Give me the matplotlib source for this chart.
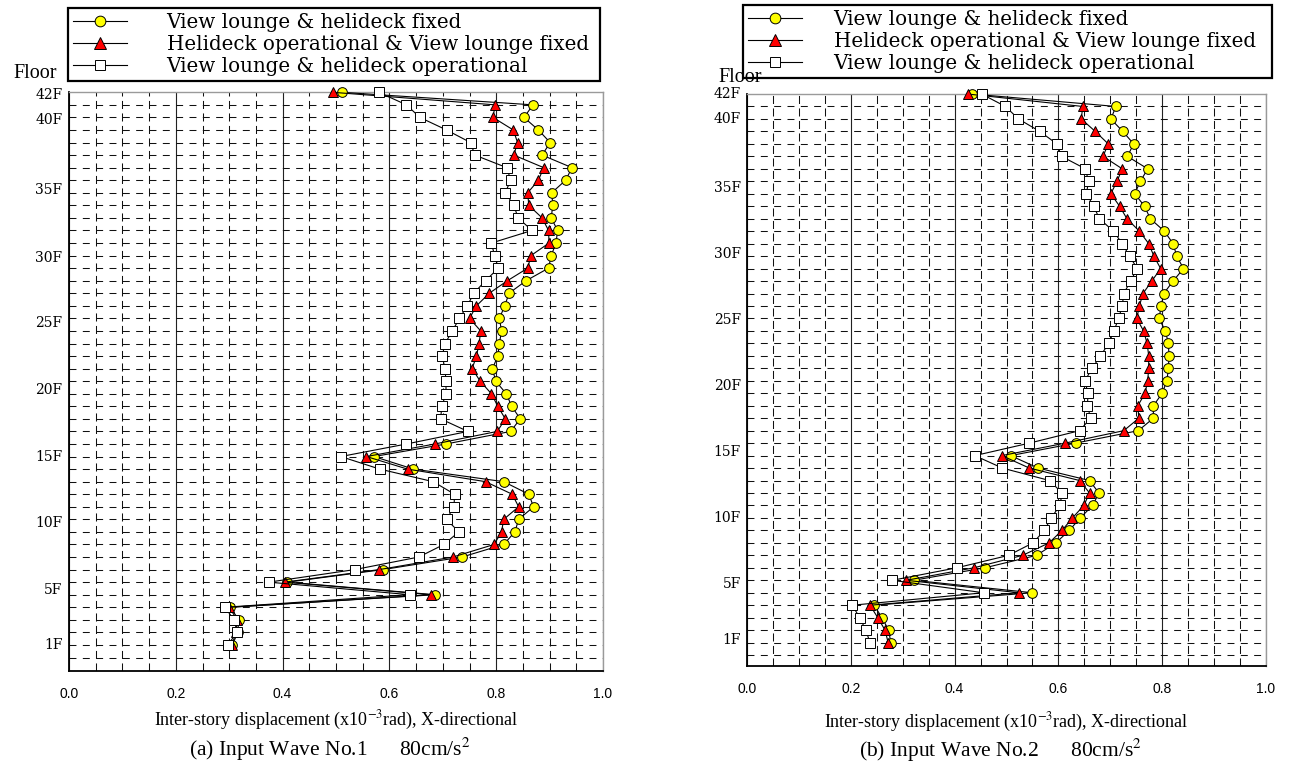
import matplotlib
matplotlib.use("Agg")
import matplotlib.pyplot as plt
import matplotlib.transforms as mtransforms
import numpy as np

plt.rcParams['lines.scale_dashes'] = False
plt.rcParams['mathtext.fontset'] = 'stix'

# ---------------- data ----------------
levels = list(range(45, 0, -1))  # measurement levels, top (42F) to bottom (1F)

series_labels = ["View lounge & helideck fixed",
                 "Helideck operational & View lounge fixed",
                 "View lounge & helideck operational"]

fixed_a = [0.511, 0.869, 0.852, 0.879, 0.901, 0.886, 0.942, 0.930, 0.904, 0.906,
           0.903, 0.915, 0.912, 0.903, 0.898, 0.856, 0.824, 0.816, 0.806, 0.810,
           0.806, 0.803, 0.793, 0.799, 0.819, 0.829, 0.845, 0.827, 0.706, 0.571,
           0.645, 0.814, 0.861, 0.870, 0.842, 0.835, 0.814, 0.736, 0.588, 0.409,
           0.685, 0.302, 0.318, 0.316, 0.306]
heli_a = [0.494, 0.798, 0.794, 0.832, 0.840, 0.833, 0.889, 0.879, 0.859, 0.861,
          0.886, 0.898, 0.899, 0.865, 0.859, 0.821, 0.787, 0.763, 0.750, 0.771,
          0.768, 0.763, 0.755, 0.770, 0.791, 0.803, 0.817, 0.802, 0.685, 0.557,
          0.634, 0.780, 0.830, 0.842, 0.814, 0.810, 0.796, 0.719, 0.581, 0.404,
          0.678, 0.300, 0.315, 0.313, 0.305]
oper_a = [0.580, 0.632, 0.657, 0.707, 0.752, 0.760, 0.820, 0.827, 0.817, 0.833,
          0.841, 0.867, 0.791, 0.797, 0.804, 0.780, 0.758, 0.746, 0.731, 0.718,
          0.704, 0.699, 0.704, 0.706, 0.706, 0.698, 0.696, 0.747, 0.632, 0.509,
          0.582, 0.682, 0.722, 0.721, 0.707, 0.730, 0.702, 0.655, 0.535, 0.374,
          0.638, 0.292, 0.309, 0.315, 0.297]

fixed_b = [0.433, 0.711, 0.701, 0.724, 0.745, 0.733, 0.772, 0.758, 0.747, 0.766,
           0.777, 0.804, 0.821, 0.828, 0.841, 0.821, 0.803, 0.798, 0.794, 0.806,
           0.812, 0.813, 0.812, 0.809, 0.800, 0.783, 0.783, 0.754, 0.633, 0.508,
           0.561, 0.660, 0.678, 0.666, 0.642, 0.621, 0.595, 0.558, 0.458, 0.321,
           0.550, 0.245, 0.260, 0.273, 0.277]
heli_b = [0.425, 0.647, 0.644, 0.671, 0.696, 0.686, 0.723, 0.713, 0.701, 0.718,
          0.732, 0.756, 0.774, 0.784, 0.797, 0.780, 0.763, 0.756, 0.751, 0.764,
          0.771, 0.774, 0.774, 0.772, 0.767, 0.753, 0.755, 0.726, 0.613, 0.491,
          0.544, 0.641, 0.660, 0.649, 0.627, 0.607, 0.582, 0.531, 0.437, 0.307,
          0.524, 0.237, 0.252, 0.266, 0.272]
oper_b = [0.452, 0.498, 0.523, 0.564, 0.597, 0.606, 0.652, 0.658, 0.654, 0.668,
          0.679, 0.706, 0.723, 0.737, 0.752, 0.739, 0.726, 0.723, 0.716, 0.707,
          0.697, 0.681, 0.665, 0.651, 0.657, 0.656, 0.662, 0.641, 0.544, 0.439,
          0.492, 0.583, 0.607, 0.603, 0.586, 0.573, 0.551, 0.504, 0.404, 0.280,
          0.456, 0.203, 0.217, 0.229, 0.237]

floor_labels = ["42F", "40F", "35F", "30F", "25F", "20F", "15F", "10F", "5F", "1F"]
floor_pos_a = [44.8, 42.8, 37.2, 31.8, 26.6, 21.3, 16.0, 10.7, 5.4, 1.0]
floor_pos_b = [45.0, 43.0, 37.5, 32.2, 26.9, 21.6, 16.3, 11.0, 5.7, 1.2]

x_ticks = [0.0, 0.2, 0.4, 0.6, 0.8, 1.0]
x_tick_labels = ["0.0", "0.2", "0.4", "0.6", "0.8", "1.0"]

xlabel_text = "Inter-story displacement (x10$^{-3}$rad), X-directional"
captions = ["(a) Input Wave No.1      80cm/s$^2$", "(b) Input Wave No.2      80cm/s$^2$"]

# ---------------- styles ----------------
styles = [dict(marker='o', mfc='#FFFF00', ms=7.0),
          dict(marker='^', mfc='#FF0000', ms=7.5),
          dict(marker='s', mfc='#FFFFFF', ms=7.0)]

W, H = 1294, 767
fig = plt.figure(figsize=(W / 100, H / 100), dpi=100)


def frac_rect(x0, y0, x1, y1):
    return [x0 / W, 1 - y1 / H, (x1 - x0) / W, (y1 - y0) / H]


def draw_panel(rect, series, floor_pos, ybot, legend_px, floor_xy, xlab_y, cap_y, caption, htp):
    ax = fig.add_axes(rect)
    ax.set_xlim(0, 1.0)
    ax.set_ylim(ybot, 45)
    ax.set_xticks(x_ticks)
    ax.set_xticklabels(x_tick_labels, fontfamily='Liberation Sans', fontsize=10)
    ax.set_xticks(np.arange(0.05, 1.0, 0.05), minor=True)
    ax.set_yticks([])
    ax.set_yticks(np.arange(0, 45, 1), minor=True)
    ax.tick_params(axis='both', which='both', length=0)
    ax.tick_params(axis='x', which='major', pad=12)
    ax.grid(which='major', axis='x', color='#222222', lw=0.8, ls='-')
    ax.grid(which='minor', axis='x', color='#111111', lw=0.75, ls=(0, (5.8, 3.2)))
    ax.grid(which='minor', axis='y', color='#111111', lw=0.75, ls=(0, (5.0, 4.6)))
    ax.set_axisbelow(True)
    for s in ('left', 'bottom'):
        ax.spines[s].set_color('black')
        ax.spines[s].set_linewidth(1.3)
    for s in ('top', 'right'):
        ax.spines[s].set_color('#9a9a9a')
        ax.spines[s].set_linewidth(1.0)

    handles = []
    for vals, st, lab in zip(series, styles, series_labels):
        h, = ax.plot(vals, levels, color='black', lw=0.8, marker=st['marker'],
                     ms=st['ms'], mfc=st['mfc'], mec='black', mew=0.7,
                     label=lab, clip_on=False, zorder=3)
        handles.append(h)

    trans = mtransforms.blended_transform_factory(ax.transAxes, ax.transData)
    for lab, p in zip(floor_labels, floor_pos):
        ax.text(-0.012, p, lab, transform=trans, ha='right', va='center',
                fontfamily='DejaVu Serif', fontsize=10, clip_on=False)

    lx0, ly0, lx1, ly1 = legend_px
    leg = ax.legend(handles=handles, loc='upper left',
                    bbox_to_anchor=(lx0 / W, 1 - ly1 / H, (lx1 - lx0) / W, (ly1 - ly0) / H),
                    bbox_transform=fig.transFigure, mode='expand',
                    prop={'family': 'DejaVu Serif', 'size': 14.3},
                    frameon=True, fancybox=False, framealpha=1, edgecolor='black',
                    borderpad=0.26, labelspacing=0.15, handlelength=2.7,
                    handletextpad=htp, borderaxespad=0, markerscale=1.1)
    leg.get_frame().set_linewidth(1.6)

    fig.text(floor_xy[0] / W, 1 - floor_xy[1] / H, "Floor", ha='center', va='center',
             fontfamily='Liberation Serif', fontsize=14.5)

    cx = (rect[0] + rect[2] / 2)
    fig.text(cx, 1 - xlab_y / H, xlabel_text, ha='center', va='center',
             fontfamily='Liberation Serif', fontsize=13)
    fig.text(cx - 0.005, 1 - cap_y / H, caption, ha='center', va='center',
             fontfamily='Liberation Serif', fontsize=15.5)
    return ax


draw_panel(frac_rect(69, 92.3, 603, 670.7), [fixed_a, heli_a, oper_a], floor_pos_a,
           -1.05, (68, 8, 600, 80), (35, 74), 720, 749, captions[0], 2.0)
draw_panel(frac_rect(747, 94, 1266, 665.7), [fixed_b, heli_b, oper_b], floor_pos_b,
           -0.85, (743, 5, 1272, 78), (740, 77), 722, 750, captions[1], 1.6)

fig.savefig("out.png", dpi=100)
